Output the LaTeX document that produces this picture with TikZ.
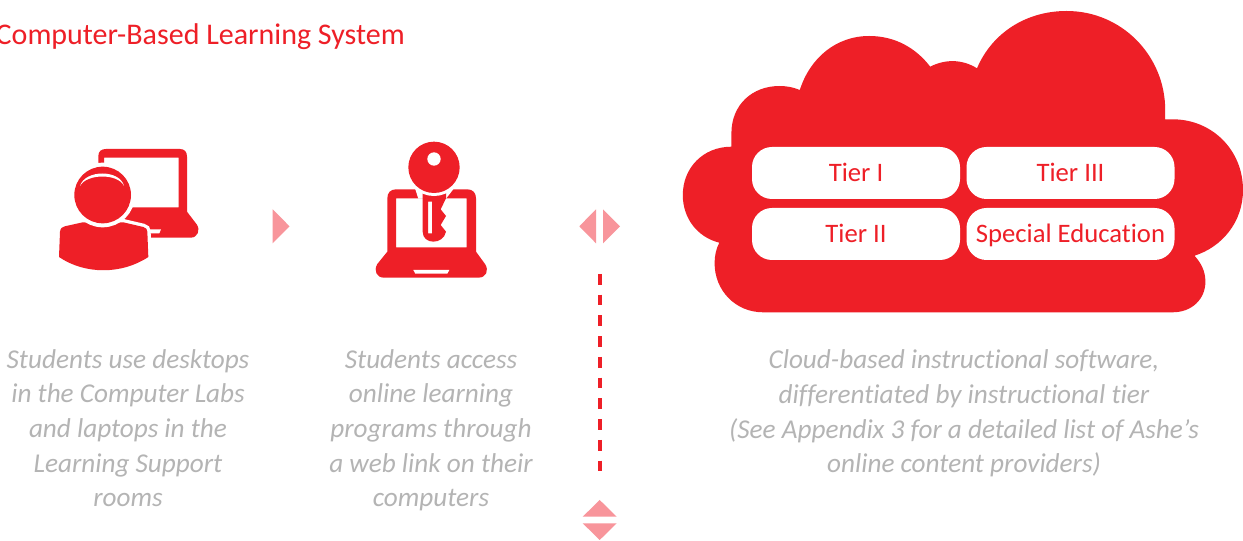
\documentclass[tikz,border=0pt]{standalone}
\usepackage{fontspec}
\setmainfont{Carlito}[Ligatures=NoCommon]
\definecolor{brand}{HTML}{EE1F27}
\definecolor{pinktri}{HTML}{F8959B}
\definecolor{greytxt}{HTML}{B4B4B4}
\tikzset{
  px/.style={x=0.75pt,y=-0.75pt},
  tierbox/.style={fill=white,rounded corners=15pt,minimum width=156pt,minimum height=39pt,inner sep=0pt,text height=15pt,text depth=2.5pt,text=brand,font=\fontsize{20pt}{22pt}\selectfont},
  caption/.style={align=center,text=greytxt,inner sep=0pt,font=\fontsize{20.4pt}{26pt}\selectfont\itshape},
  tri/.style={fill=pinktri},
  iconfill/.style={fill=brand},
  halo/.style={fill=brand,preaction={draw=white,line width=#1}},
}
\begin{document}
\begin{tikzpicture}[px]
\useasboundingbox (0,0) rectangle (1243,541);
\fill[white] (0,0) rectangle (1243,541);
% title
\node[anchor=base east,text=brand,inner sep=0pt,font=\fontsize{22.5pt}{26pt}\selectfont] (title) at (405,45) {Computer-Based Learning System};
% desktop + user icon
\begin{scope}[shift={(40,130)},x=0.25pt,y=-0.25pt]
  \fill[iconfill,even odd rule] (175,323) -- (175,78) .. controls (175,64) and (184,57) .. (198,57) -- (420,57) .. controls (434,57) and (441,66) .. (441,80) -- (441,245) -- (470,283) .. controls (482,300) and (473,323) .. (452,323) -- cycle
    (192,83) -- (416,83) -- (416,232) -- (192,232) -- cycle;
  \fill[white] (322,298) -- (363,298) -- (358,310) -- (322,310) -- cycle;
  \path[halo=5pt] (60,305) .. controls (62,294) and (66,291) .. (74,289) -- (128,277) -- (250,277) -- (310,291) .. controls (318,293) and (322,298) .. (322,305) -- (325,381) .. controls (245,434) and (135,434) .. (57,381) -- cycle;
  \path[halo=6pt] (188,195) circle (85);
  \fill[white] (120,168) .. controls (135,118) and (240,118) .. (252,168) .. controls (235,130) and (140,130) .. (120,168) -- cycle;
\end{scope}
% key + laptop icon
\begin{scope}[shift={(360,130)},x=0.25pt,y=-0.25pt]
  \fill[iconfill,even odd rule] (82,205) .. controls (82,188) and (92,178) .. (108,178) -- (322,178) .. controls (338,178) and (348,188) .. (348,205) -- (348,365) -- (375,402) .. controls (388,422) and (378,443) .. (355,443) -- (72,443) .. controls (50,443) and (40,422) .. (52,402) -- (82,365) -- cycle
    (108,205) -- (320,205) -- (320,352) -- (108,352) -- cycle;
  \fill[white] (160,420) -- (268,420) -- (262,431) -- (166,431) -- cycle;
  \fill[white] (165,175) -- (282,175) -- (258,206) -- (175,206) -- cycle;
  \fill[iconfill,even odd rule] (188,180) -- (258,180) -- (258,205) -- (242,238) -- (258,258) -- (242,285) -- (258,305) .. controls (250,345) and (188,345) .. (188,305) -- cycle
    (204,215) -- (216,215) -- (216,310) -- (204,310) -- cycle;
  \path[halo=4.5pt] (222,112) circle (77);
  \fill[white] (222,87) circle (20);
\end{scope}
% arrows
\fill[tri] (272.7,209.3) -- (289.5,226.3) -- (272.7,243.3) -- cycle;
\fill[tri] (596,209.3) -- (579.3,226.3) -- (596,243.3) -- cycle;
\fill[tri] (603,209.3) -- (620,226.3) -- (603,243.3) -- cycle;
\fill[tri] (582.7,516.7) -- (599.7,500) -- (616.7,516.7) -- cycle;
\fill[tri] (582.7,523.3) -- (599.7,540) -- (616.7,523.3) -- cycle;
% dashed line
\coordinate (d1) at (600,274);
\coordinate (d2) at (600,472);
\draw[brand,line width=2.3pt,dash pattern=on 8pt off 7.55pt] (d1) -- (d2);
% cloud
\fill[brand] (731.4,146.7) -- (731.4,133.3)
  .. controls (731.4,105) and (752,86) .. (779.6,86)
  .. controls (787,86) and (794,87.5) .. (799.8,90)
  .. controls (810,58) and (836,36) .. (869.2,36)
  .. controls (895,36) and (916,48) .. (930.2,66.7)
  .. controls (945,59) and (962,59) .. (977,68.3)
  .. controls (992,33) and (1026,11) .. (1066.6,11)
  .. controls (1122,11) and (1165.2,56) .. (1165.2,110)
  -- (1165.2,119.3) -- (1172.6,119.3)
  .. controls (1212,119.3) and (1243,150) .. (1243,190)
  .. controls (1243,222) and (1222,247) .. (1194.5,255.7)
  .. controls (1201,263) and (1205.4,271) .. (1205.4,281.7)
  .. controls (1205.4,299) and (1192,312.3) .. (1172.6,312.3)
  -- (763.2,312.3)
  .. controls (735,312.3) and (714.6,290) .. (714.6,263.3)
  .. controls (714.6,256) and (716,249) .. (719.3,242.7)
  .. controls (697,237) and (682.8,218) .. (682.8,195)
  .. controls (682.8,168) and (703,146.7) .. (731.4,146.7) -- cycle;
\node[tierbox] (t1) at (856,173) {Tier I};
\node[tierbox] (t3) at (1070.5,173) {Tier III};
\node[tierbox] (t2) at (856,234) {Tier II};
\node[tierbox] (t4) at (1070.5,234) {Special Education};
% captions
\node[caption,anchor=base] (c1) at (128,507) {Students use desktops\\in the Computer Labs\\and laptops in the\\Learning Support\\rooms};
\node[caption,anchor=base] (c2) at (431,507) {Students access\\online learning\\programs through\\a web link on their\\computers};
\node[caption,anchor=base] (c3) at (964,473) {Cloud-based instructional software,\\differentiated by instructional tier\\(See Appendix 3 for a detailed list of Ashe’s\\online content providers)};
\end{tikzpicture}
\end{document}
